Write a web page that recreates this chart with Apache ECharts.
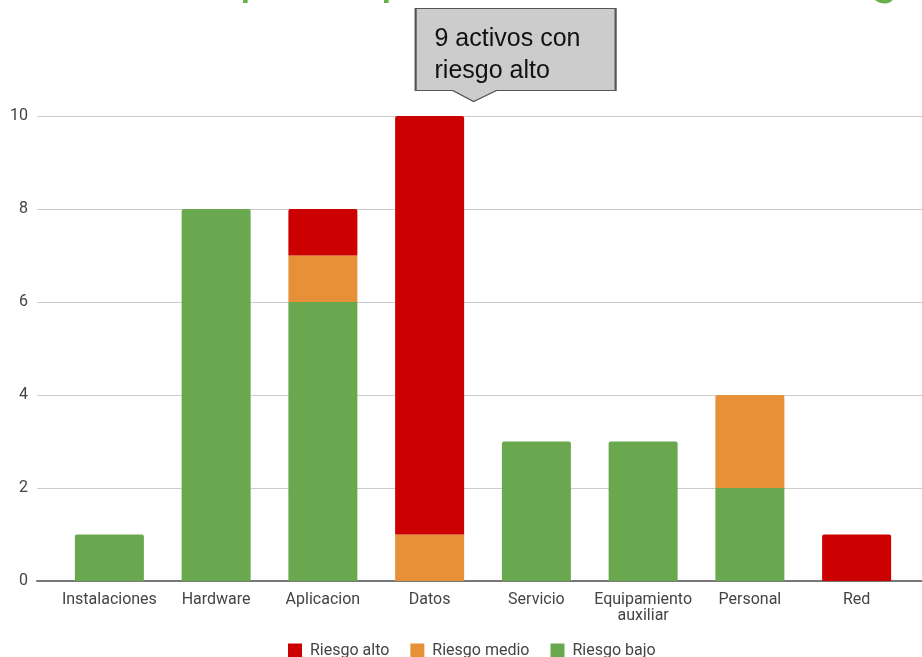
<!DOCTYPE html>
<html>
<head>
<meta charset="utf-8">
<style>
  html, body { margin: 0; padding: 0; background: #ffffff; }
  #chart { width: 922px; height: 657px; }
</style>
<script src="https://cdn.jsdelivr.net/npm/echarts@6/dist/echarts.min.js"></script>
</head>
<body>
<div id="chart"></div>
<script>
// Asset categories (x axis)
const categories = ['Instalaciones', 'Hardware', 'Aplicacion', 'Datos', 'Servicio', 'Equipamiento\nauxiliar', 'Personal', 'Red'];

// Number of assets per risk level
const riesgoBajo  = [1, 8, 6, 0, 3, 3, 2, 0];
const riesgoMedio = [0, 0, 1, 1, 0, 0, 2, 0];
const riesgoAlto  = [0, 0, 1, 9, 0, 0, 0, 1];

// Y axis range
const yMin = 0, yMax = 10, yStep = 2;

const titleText = 'Impacto por los niveles de riesgo';
const calloutText = '9 activos con\nriesgo alto';

const COLORS = { alto: '#cc0000', medio: '#e69138', bajo: '#6aa84f' };
const FONT = 'Roboto, sans-serif';

// Stack order bottom -> top
const stackOrder = [
  { name: 'Riesgo bajo', data: riesgoBajo, color: COLORS.bajo },
  { name: 'Riesgo medio', data: riesgoMedio, color: COLORS.medio },
  { name: 'Riesgo alto', data: riesgoAlto, color: COLORS.alto }
];

// Round only the top segment of each stacked column
function topIndex(ci) {
  let t = -1;
  stackOrder.forEach((s, si) => { if (s.data[ci] > 0) t = si; });
  return t;
}

const barSeries = stackOrder.map((s, si) => ({
  name: s.name,
  type: 'bar',
  stack: 'total',
  xAxisIndex: 1,
  yAxisIndex: 1,
  barWidth: 69,
  itemStyle: { color: s.color },
  emphasis: { disabled: true },
  data: s.data.map((v, ci) => ({
    value: v,
    itemStyle: topIndex(ci) === si ? { borderRadius: [2, 2, 0, 0] } : {}
  })),
  z: 3
}));

// Callout pointing at the top of the Datos column
const datosTotal = riesgoBajo[3] + riesgoMedio[3] + riesgoAlto[3];
barSeries[2].markPoint = {
  symbol: 'path://M0,0 L200,0 L200,82 L81,82 L58,93 L37,82 L0,82 Z',
  symbolSize: [200, 93],
  symbolKeepAspect: false,
  symbolOffset: [86, -61],
  silent: true,
  itemStyle: { color: '#cccccc', borderColor: '#555555', borderWidth: 1.5 },
  label: {
    show: true,
    formatter: calloutText,
    position: [20, 15],
    align: 'left',
    verticalAlign: 'top',
    color: '#111111',
    fontFamily: 'Liberation Sans, Arial, sans-serif',
    fontSize: 25,
    lineHeight: 32
  },
  data: [{ coord: [categories[3], datosTotal] }]
};

const chart = echarts.init(document.getElementById('chart'), null, { renderer: 'canvas' });

chart.setOption({
  animation: false,
  backgroundColor: '#ffffff',
  title: {
    text: titleText,
    left: 176,
    top: -51,
    textStyle: { color: '#6ab04c', fontSize: 51, fontWeight: 'normal', fontFamily: FONT }
  },
  legend: {
    data: ['Riesgo alto', 'Riesgo medio', 'Riesgo bajo'],
    left: 283,
    top: 638,
    itemWidth: 14,
    itemHeight: 15,
    itemGap: 21,
    icon: 'rect',
    selectedMode: false,
    textStyle: { color: '#444444', fontSize: 16, fontFamily: FONT, padding: [0, 0, 0, 3] }
  },
  grid: [
    // gridlines / y labels
    { left: 37, right: 0, top: 116, bottom: 76, containLabel: false },
    // columns
    { left: 56, right: 12, top: 116, bottom: 76, containLabel: false }
  ],
  xAxis: [
    {
      gridIndex: 0, type: 'value', min: 0, max: 1,
      axisLine: { show: true, onZero: false, lineStyle: { color: '#777777', width: 2 } },
      axisTick: { show: false }, axisLabel: { show: false }, splitLine: { show: false }
    },
    {
      gridIndex: 1, type: 'category', data: categories,
      axisLine: { show: false }, axisTick: { show: false },
      axisLabel: {
        interval: 0, margin: 11, color: '#444444', fontSize: 16, lineHeight: 16,
        fontFamily: FONT
      }
    }
  ],
  yAxis: [
    {
      gridIndex: 0, type: 'value', min: yMin, max: yMax, interval: yStep,
      axisLine: { show: false }, axisTick: { show: false },
      axisLabel: { margin: 9, color: '#444444', fontSize: 16, fontFamily: FONT },
      splitLine: { lineStyle: { color: '#cccccc', width: 1 } }
    },
    {
      gridIndex: 1, type: 'value', min: yMin, max: yMax, interval: yStep,
      show: false, splitLine: { show: false }
    }
  ],
  series: barSeries
});
</script>
</body>
</html>
